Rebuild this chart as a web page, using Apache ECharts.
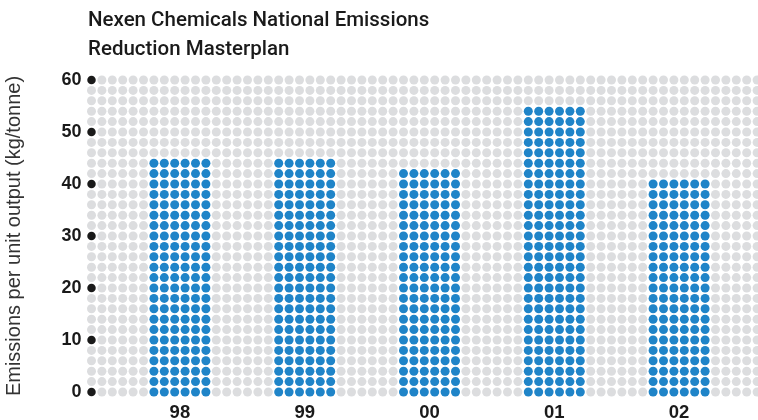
<!DOCTYPE html>
<html>
<head>
<meta charset="utf-8">
<script src="https://cdn.jsdelivr.net/npm/echarts@6/dist/echarts.min.js"></script>
<style>html,body{margin:0;padding:0;background:#fff}#c{width:758px;height:420px}</style>
</head>
<body>
<div id="c"></div>
<script>
// ---- data ----
const categories = ['98', '99', '00', '01', '02'];
const values = [44, 44, 42, 54, 40];
const yTicks = [0, 10, 20, 30, 40, 50, 60];
const titleText = 'Nexen Chemicals National Emissions\nReduction Masterplan';
const yName = 'Emissions per unit output (kg/tonne)';

// ---- dot-matrix layout (in column units / value units) ----
const STEP = 2;          // one dot row = 2 units
const YMAX = 60;
const COLS = 66;         // background dot columns
const BAR_W = 6;         // dots per bar width
const BAR_START = 6;     // first bar column
const BAR_PITCH = 12;    // columns between bars

const blueSet = new Set();
const blue = [];
categories.forEach((c, i) => {
  const x0 = BAR_START + i * BAR_PITCH;
  for (let k = 0; k < BAR_W; k++) {
    for (let v = 0; v <= values[i]; v += STEP) {
      blue.push([x0 + k, v]);
      blueSet.add((x0 + k) + '_' + v);
    }
  }
});
const tickDots = yTicks.map(v => [0, v]);
const tickSet = new Set(yTicks.map(v => '0_' + v));
const grey = [];
for (let x = 0; x < COLS; x++) {
  for (let v = 0; v <= YMAX; v += STEP) {
    const key = x + '_' + v;
    if (!blueSet.has(key) && !tickSet.has(key)) grey.push([x, v]);
  }
}
const labelPos = categories.map((c, i) => BAR_START + i * BAR_PITCH + (BAR_W - 1) / 2);

const chart = echarts.init(document.getElementById('c'), null, {renderer: 'canvas'});
const DOT = 9;
chart.setOption({
  animation: false,
  backgroundColor: '#ffffff',
  title: {
    text: titleText,
    left: 88, top: 6, padding: 0,
    textStyle: {fontFamily: 'Roboto', fontSize: 20.5, fontWeight: 500, color: '#1a1a1a', lineHeight: 29.5}
  },
  grid: {left: 91.5, top: 80, width: 64 * 10.4, height: 312, containLabel: false, outerBoundsMode: 'none'},
  xAxis: {
    type: 'value', min: 0, max: 64,
    splitLine: {show: false}, axisLine: {show: false}, axisTick: {show: false},
    axisLabel: {
      customValues: labelPos,
      margin: 11,
      fontFamily: 'Liberation Sans', fontSize: 18.5, fontWeight: 'bold', color: '#1a1a1a',
      formatter: (v) => { const i = labelPos.indexOf(v); return i >= 0 ? categories[i] : ''; }
    }
  },
  yAxis: {
    type: 'value', min: 0, max: YMAX, interval: 10,
    name: yName, nameLocation: 'middle', nameGap: 67, nameRotate: 90,
    nameTextStyle: {fontFamily: 'Liberation Sans', fontSize: 20, color: '#333'},
    splitLine: {show: false}, axisLine: {show: false}, axisTick: {show: false},
    axisLabel: {margin: 10, fontFamily: 'Liberation Sans', fontSize: 18, fontWeight: 'bold', color: '#1a1a1a'}
  },
  series: [
    {type: 'scatter', data: grey, symbol: 'circle', symbolSize: DOT, clip: false, silent: true,
     progressive: 0, itemStyle: {color: '#dcdddf', opacity: 1}, z: 1},
    {type: 'scatter', data: blue, symbol: 'circle', symbolSize: DOT, clip: false, silent: true,
     progressive: 0, itemStyle: {color: '#1f84c8', opacity: 1}, z: 2},
    {type: 'scatter', data: tickDots, symbol: 'circle', symbolSize: DOT - 0.5, clip: false, silent: true,
     progressive: 0, itemStyle: {color: '#1a1a1a', opacity: 1}, z: 3}
  ]
});
</script>
</body>
</html>
